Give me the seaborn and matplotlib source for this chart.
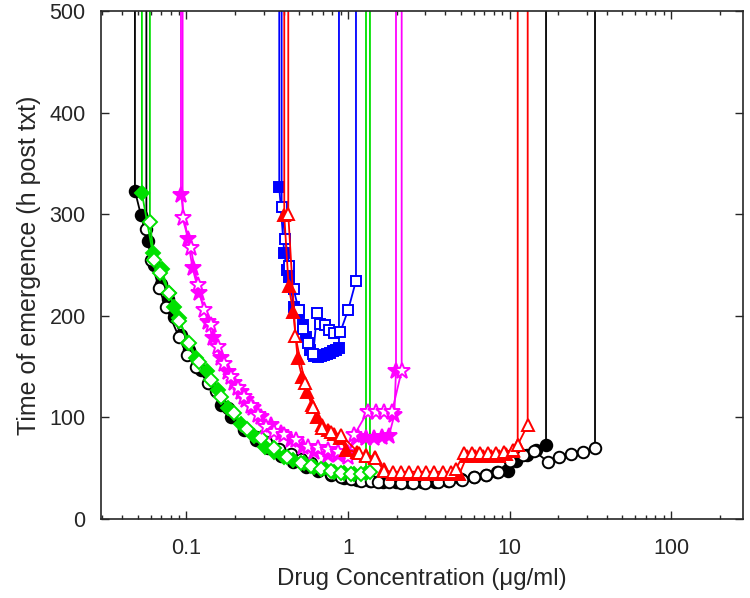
import numpy as np
import matplotlib
matplotlib.use("Agg")
import matplotlib.pyplot as plt
import seaborn as sns

# ---------------- data (concentration in ug/ml, time in h) ----------------
black_filled_x = [0.0480, 0.0523, 0.0575, 0.0626, 0.0695, 0.0765, 0.0833, 0.0925, 0.1041, 0.1230,
                  0.1384, 0.1635, 0.1886, 0.2280, 0.2694, 0.3197, 0.3847, 0.4565, 0.5494, 0.652,
                  0.785, 0.944, 1.137, 1.368, 1.647, 1.983, 2.386, 2.872, 3.457, 4.161,
                  5.008, 6.028, 7.154, 8.367, 9.748, 10.97, 12.83, 14.59, 16.83]
black_filled_y = [323, 299, 274, 250, 231, 217, 199, 181, 166, 147,
                  133.5, 112, 100.7, 87.6, 78, 70, 62, 56, 51, 47,
                  43, 40, 38, 37, 36.5, 36, 36, 36, 36.5, 37.5,
                  39, 41.5, 43.5, 46, 47.5, 57, 63, 68, 73]

black_open_x = [0.0565, 0.0603, 0.0676, 0.0746, 0.0899, 0.1007, 0.1145, 0.1359, 0.1522, 0.1807,
                0.2270, 0.2694, 0.3107, 0.3740, 0.4437, 0.5117, 0.5902, 0.6806, 0.785, 0.905,
                1.044, 1.204, 1.388, 1.527, 1.794, 2.129, 2.526, 3.010, 3.593, 4.239,
                5.080, 6.002, 7.154, 8.451, 10.12, 12.07, 14.24, 17.24, 20.34, 24.03,
                28.40, 33.83]
black_open_y = [285, 255, 227, 209, 179, 161, 150, 134, 126, 109.5,
                89.5, 81, 76, 69, 64, 59, 55, 49, 44, 41,
                39, 37.5, 37, 36.7, 36, 35.7, 35.5, 35.7, 36.4, 37.4,
                38.4, 41.6, 43.3, 46.6, 57.4, 63, 67, 56.4, 60.7, 64,
                66, 69.6]

green_filled_x = [0.0530, 0.0618, 0.0702, 0.0782, 0.0840, 0.0903, 0.1017, 0.1145, 0.1339, 0.1561,
                  0.1799, 0.2175, 0.2630, 0.3063, 0.3497, 0.4033, 0.4546, 0.5363, 0.6184, 0.7131,
                  0.8227, 0.9486, 1.094, 1.293]
green_filled_y = [320.6, 262, 245.8, 222, 209, 197.5, 173.5, 158, 145.7, 127,
                  109, 94, 81.7, 71, 66, 61, 58, 54.8, 51.5, 50,
                  46.6, 45, 44.3, 45]

green_open_x = [0.0594, 0.0632, 0.0688, 0.0782, 0.0903, 0.1041, 0.1200, 0.1418, 0.1635, 0.1960,
                0.2369, 0.2893, 0.3497, 0.4173, 0.5117, 0.5902, 0.6806, 0.785, 0.905, 1.044,
                1.204, 1.368]
green_open_y = [292.6, 255, 242, 222, 195, 173, 155, 137, 120, 104,
                89, 79.4, 69.6, 61, 54.8, 52, 49, 47, 45.5, 44.5,
                44, 46]

magenta_filled_x = [0.0925, 0.1017, 0.1092, 0.1200, 0.1365, 0.1453, 0.1635, 0.1799, 0.1977, 0.2175,
                    0.2336, 0.2570, 0.2893, 0.3336, 0.3847, 0.4437, 0.5242, 0.6184, 0.7486, 0.8635,
                    0.9957, 1.148, 1.293, 1.449, 1.624, 1.794, 1.935, 1.983]
magenta_filled_y = [319, 276, 246.7, 222, 194, 178, 158, 145, 133.5, 125,
                    117, 109, 100.7, 92.5, 84.3, 77.7, 71, 66, 63, 63,
                    65, 81, 80, 80, 81, 82, 102, 146]

magenta_open_x = [0.0947, 0.1066, 0.1173, 0.1289, 0.1418, 0.1561, 0.1699, 0.1886, 0.2084, 0.2270,
                  0.2508, 0.2771, 0.3107, 0.3497, 0.4033, 0.4765, 0.5628, 0.6494, 0.7486, 0.8635,
                  0.9957, 1.094, 1.324, 1.491, 1.671, 1.873, 2.150]
magenta_open_y = [296, 266.4, 230, 205.7, 191, 169.6, 153, 140, 129, 120,
                  111, 102, 91, 86, 82.7, 77.7, 71, 69.6, 68, 66,
                  61, 82.7, 105.6, 105.6, 105.6, 105.6, 146]

blue_filled_x = [0.3755, 0.4033, 0.4191, 0.4331, 0.4610, 0.4994, 0.5242, 0.5494, 0.5817, 0.6184,
                 0.652, 0.6806, 0.7102, 0.7413, 0.7737, 0.8075, 0.8425, 0.8796]
blue_filled_y = [326.5, 261.5, 245, 238.5, 209, 202.5, 191, 179.5, 166, 160,
                 159, 160, 161, 162, 163, 165, 166.5, 168]

blue_open_x = [0.3885, 0.4091, 0.4331, 0.4610, 0.4950, 0.5242, 0.5628, 0.6098, 0.6429, 0.6740,
               0.7236, 0.7661, 0.8154, 0.8960, 1.004, 1.121]
blue_open_y = [307, 275.6, 249, 226, 206, 187, 173.5, 162, 203, 192,
               191, 186, 183, 184, 206, 234.5]

red_filled_x = [0.4033, 0.4294, 0.4583, 0.4881, 0.5190, 0.5574, 0.5984, 0.6429, 0.6902, 0.7518,
                0.8191, 0.8923, 0.9719, 1.137, 1.293, 1.469, 1.671, 1.892, 2.129, 2.397,
                2.702, 3.041, 3.423, 3.859, 4.343, 4.890, 5.456, 6.114, 6.853, 7.682,
                8.610, 9.513, 10.47, 11.24]
red_filled_y = [299, 229, 204, 158, 140, 125, 112, 100, 93, 88,
                84, 80, 68, 66, 63, 61, 49, 44, 44, 44,
                44, 44, 44, 44, 44, 44, 62, 62, 62, 62,
                62, 64, 67, 73]

red_open_x = [0.4270, 0.4730, 0.5417, 0.6070, 0.6902, 0.785, 0.905, 1.175, 1.293, 1.469,
              1.671, 1.892, 2.129, 2.397, 2.702, 3.041, 3.423, 3.859, 4.343, 4.665,
              5.250, 5.859, 6.567, 7.360, 8.249, 9.246, 10.47, 11.24, 12.96]
red_open_y = [300, 180, 133.5, 110.5, 90, 86, 82.7, 64.6, 62, 60,
              47.5, 46.5, 46.5, 46.5, 46.5, 46.5, 46.5, 46.5, 46.5, 49.5,
              64.6, 64.6, 64.6, 64.6, 64.6, 66, 68, 73, 92.5]

x_ticks = [0.1, 1, 10, 100]
x_tick_labels = ["0.1", "1", "10", "100"]
y_ticks = [0, 100, 200, 300, 400, 500]

# ---------------- style ----------------
sns.set_style("ticks")
plt.rcParams["font.family"] = ["Liberation Sans", "DejaVu Sans"]

fig = plt.figure(figsize=(7.5, 5.98), dpi=100)
ax = fig.add_axes([0.1347, 0.1321, 0.856, 0.8495])

TOP = 700  # curves leave the plot vertically beyond the top edge

series = [
    (black_filled_x, black_filled_y, "black", "o", True, 8.3),
    (black_open_x, black_open_y, "black", "o", False, 8.3),
    (green_filled_x, green_filled_y, "#00e000", "D", True, 7),
    (green_open_x, green_open_y, "#00e000", "D", False, 7),
    (magenta_filled_x, magenta_filled_y, "#ff00ff", "*", True, 12),
    (magenta_open_x, magenta_open_y, "#ff00ff", "*", False, 12),
    (blue_filled_x, blue_filled_y, "#0000ff", "s", True, 7),
    (blue_open_x, blue_open_y, "#0000ff", "s", False, 7),
    (red_filled_x, red_filled_y, "#ff0000", "^", True, 9),
    (red_open_x, red_open_y, "#ff0000", "^", False, 9),
]

for xs, ys, col, mk, filled, ms in series:
    fx = np.array([xs[0]] + list(xs) + [xs[-1]])
    fy = np.array([TOP] + list(ys) + [TOP])
    n = len(xs)
    sns.lineplot(x=fx, y=fy, ax=ax, sort=False, estimator=None, color=col, lw=1.3,
                 marker=mk, markevery=list(range(1, n + 1)), ms=ms,
                 mfc=col if filled else "white", mec=col, mew=1.4, legend=False)

ax.set_xscale("log")
ax.set_xlim(0.0296, 279)
ax.set_ylim(0, 500)
ax.set_xticks(x_ticks)
ax.set_xticklabels(x_tick_labels)
ax.set_yticks(y_ticks)
ax.tick_params(axis="both", which="both", direction="in", top=True, right=True,
               labelsize=15.5, width=1.0)
ax.tick_params(axis="y", which="major", length=6, pad=11)
ax.tick_params(axis="x", which="major", length=6, pad=14)
ax.tick_params(axis="x", which="minor", length=3)
ax.tick_params(axis="y", which="minor", left=False, right=False)
for s in ax.spines.values():
    s.set_linewidth(1.2)
    s.set_visible(True)

ax.set_xlabel("Drug Concentration (\u03bcg/ml)", fontsize=17.3, labelpad=6)
ax.set_ylabel("Time of emergence (h post txt)", fontsize=18, labelpad=6)

fig.savefig("out.png", dpi=100)
